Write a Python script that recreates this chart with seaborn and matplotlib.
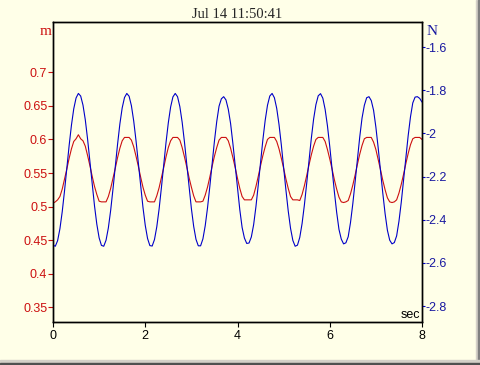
import numpy as np
import pandas as pd
import matplotlib
matplotlib.use("Agg")
import matplotlib.pyplot as plt
import seaborn as sns
from matplotlib.patches import Rectangle
from matplotlib.ticker import FixedLocator, FuncFormatter

# samples every 0.05 s
sample_rate = 20

# left axis (m), red trace
red_m = [
    0.505, 0.507, 0.510, 0.515, 0.526, 0.541, 0.556, 0.572, 0.586, 0.597,
    0.601, 0.607, 0.601, 0.598, 0.590, 0.576, 0.561, 0.545, 0.530, 0.518,
    0.508, 0.507, 0.507, 0.507, 0.515, 0.527, 0.542, 0.557, 0.573, 0.587,
    0.598, 0.603, 0.603, 0.603, 0.599, 0.589, 0.575, 0.560, 0.544, 0.529,
    0.517, 0.508, 0.507, 0.507, 0.507, 0.516, 0.528, 0.543, 0.558, 0.574,
    0.588, 0.598, 0.603, 0.603, 0.603, 0.599, 0.588, 0.574, 0.559, 0.543,
    0.529, 0.516, 0.507, 0.507, 0.507, 0.508, 0.517, 0.529, 0.544, 0.560,
    0.575, 0.588, 0.599, 0.603, 0.603, 0.603, 0.598, 0.587, 0.573, 0.558,
    0.542, 0.527, 0.515, 0.510, 0.510, 0.510, 0.510, 0.517, 0.530, 0.545,
    0.561, 0.576, 0.589, 0.600, 0.603, 0.603, 0.603, 0.597, 0.586, 0.572,
    0.557, 0.541, 0.527, 0.515, 0.510, 0.510, 0.510, 0.509, 0.518, 0.531,
    0.546, 0.562, 0.577, 0.590, 0.600, 0.603, 0.603, 0.603, 0.597, 0.585,
    0.571, 0.556, 0.540, 0.526, 0.514, 0.507, 0.506, 0.507, 0.509, 0.519,
    0.532, 0.547, 0.563, 0.578, 0.591, 0.601, 0.603, 0.603, 0.603, 0.596,
    0.585, 0.570, 0.555, 0.539, 0.525, 0.513, 0.507, 0.506, 0.507, 0.510,
    0.520, 0.533, 0.548, 0.564, 0.579, 0.592, 0.601, 0.603, 0.603, 0.603,
    0.600,
]

# right axis (N), blue trace
blue_n = [
    -2.518, -2.523, -2.497, -2.442, -2.363, -2.266, -2.161, -2.056, -1.962, -1.886,
    -1.836, -1.815, -1.827, -1.869, -1.937, -2.027, -2.130, -2.236, -2.336, -2.421,
    -2.484, -2.519, -2.523, -2.495, -2.438, -2.357, -2.259, -2.154, -2.050, -1.956,
    -1.882, -1.834, -1.815, -1.828, -1.872, -1.943, -2.034, -2.137, -2.243, -2.342,
    -2.426, -2.487, -2.520, -2.522, -2.492, -2.433, -2.351, -2.252, -2.147, -2.043,
    -1.951, -1.878, -1.831, -1.815, -1.830, -1.876, -1.948, -2.040, -2.144, -2.249,
    -2.348, -2.431, -2.491, -2.521, -2.521, -2.489, -2.428, -2.345, -2.246, -2.140,
    -2.036, -1.945, -1.874, -1.840, -1.830, -1.845, -1.888, -1.954, -2.047, -2.151,
    -2.256, -2.354, -2.436, -2.485, -2.510, -2.508, -2.480, -2.423, -2.339, -2.239,
    -2.133, -2.030, -1.940, -1.870, -1.827, -1.815, -1.835, -1.884, -1.959, -2.053,
    -2.158, -2.263, -2.360, -2.440, -2.496, -2.523, -2.518, -2.482, -2.418, -2.332,
    -2.232, -2.126, -2.024, -1.934, -1.867, -1.826, -1.816, -1.837, -1.889, -1.965,
    -2.060, -2.165, -2.270, -2.366, -2.445, -2.490, -2.512, -2.507, -2.479, -2.413,
    -2.326, -2.225, -2.119, -2.017, -1.929, -1.870, -1.835, -1.830, -1.848, -1.893,
    -1.971, -2.067, -2.172, -2.277, -2.372, -2.449, -2.495, -2.512, -2.506, -2.475,
    -2.408, -2.320, -2.218, -2.112, -2.011, -1.924, -1.859, -1.832, -1.830, -1.838,
    -1.855,
]

x_ticks = [0, 2, 4, 6, 8]
left_ticks = [0.35, 0.4, 0.45, 0.5, 0.55, 0.6, 0.65, 0.7]
right_ticks = [-2.8, -2.6, -2.4, -2.2, -2.0, -1.8, -1.6]
title = "Jul 14 11:50:41"

bg = "#ffffe8"
red = "#cc1010"
blue = "#0000c8"
blue_txt = "#1818a0"

sns.set_style("white")
plt.rcParams["font.family"] = ["Liberation Sans", "DejaVu Sans"]
plt.rcParams["axes.unicode_minus"] = False

df = pd.DataFrame({"m": red_m, "N": blue_n})
df["sec"] = np.arange(len(df)) / sample_rate

fig = plt.figure(figsize=(4.8, 3.65), dpi=100, facecolor=bg)
ax = fig.add_axes([53 / 480, 43 / 365, 369 / 480, 300 / 365], facecolor=bg)
sns.lineplot(data=df, x="sec", y="m", ax=ax, color=red, lw=0.8)
ax2 = ax.twinx()
sns.lineplot(data=df, x="sec", y="N", ax=ax2, color=blue, lw=0.8)

ax.set_xlim(0, 8)
ax.set_ylim(0.328, 0.775)
ax2.set_ylim(-2.874, -1.484)
for a in (ax, ax2):
    a.set_xlabel("")
    a.set_ylabel("")
    for s in a.spines.values():
        s.set_color("black")
        s.set_linewidth(1.0)

fmt = FuncFormatter(lambda v, p: f"{v:g}")
ax.xaxis.set_major_locator(FixedLocator(x_ticks))
ax.yaxis.set_major_locator(FixedLocator(left_ticks))
ax.yaxis.set_major_formatter(fmt)
ax2.yaxis.set_major_locator(FixedLocator(right_ticks))
ax2.yaxis.set_major_formatter(fmt)

ax.tick_params(axis="x", direction="out", length=3.6, width=0.8, color="black",
               labelcolor="black", labelsize=9, pad=2, bottom=True)
ax.tick_params(axis="y", direction="out", length=3.6, width=0.8, color=red,
               labelcolor=red, labelsize=9, pad=0.5, left=True)
ax2.tick_params(axis="y", direction="out", length=2.5, width=0.8, color=blue,
                labelcolor=blue_txt, labelsize=9, pad=0.3, right=True)

ax.set_title(title, fontfamily="Liberation Serif", fontsize=10.5, pad=3)
fig.text(52 / 480, 1 - 35 / 365, "m", color=red, fontsize=11,
         fontfamily="Liberation Serif", ha="right", va="baseline")
fig.text(427 / 480, 1 - 35 / 365, "N", color=blue_txt, fontsize=11,
         fontfamily="Liberation Serif", ha="left", va="baseline")
ax.text(0.995, 0.012, "sec", transform=ax.transAxes, fontsize=9,
        ha="right", va="baseline", color="black")

# window frame on the right and bottom edges
fig.patches.extend([
    Rectangle((476 / 480, 0), 2 / 480, 1, transform=fig.transFigure, color="#d4d0c8", zorder=0),
    Rectangle((478 / 480, 0), 2 / 480, 1, transform=fig.transFigure, color="#808080", zorder=0),
    Rectangle((0, 2 / 365), 1, 3 / 365, transform=fig.transFigure, color="#d4d0c8", zorder=0),
    Rectangle((0, 0), 1, 2 / 365, transform=fig.transFigure, color="#505050", zorder=0),
])

fig.savefig("out.png", dpi=100, facecolor=bg)
